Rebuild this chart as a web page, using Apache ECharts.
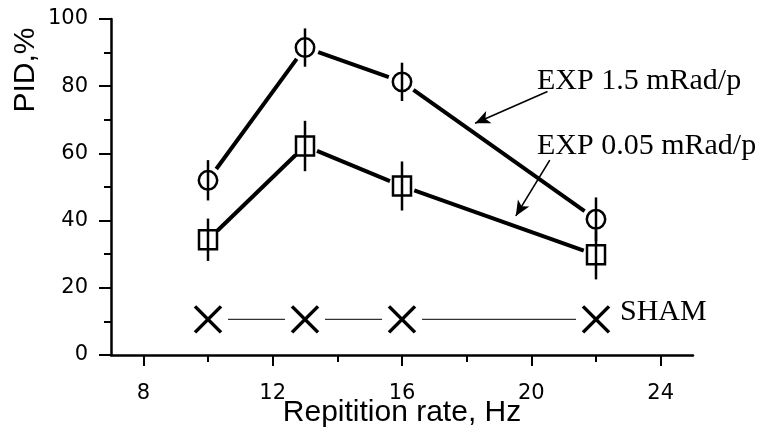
<!DOCTYPE html>
<html lang="en">
<head>
    <meta charset="UTF-8">
    <script src="https://cdn.jsdelivr.net/npm/echarts@6/dist/echarts.min.js"></script>
    <style>
        html, body { margin: 0; padding: 0; background: #fff; }
    </style>
</head>
<body>
    <div id="main" style="width: 761px; height: 432px;"></div>
    <script>
        // repetition rates, Hz
        var rates = [10, 13, 16, 22];
        // PID, % for each exposure, with error bar half-widths
        var exp15 = [52, 91.5, 81.3, 40.4];
        var exp15Err = [6, 5.7, 5.7, 6.5];
        var exp005 = [34.3, 62.2, 50.3, 29.8];
        var exp005Err = [6.3, 7.5, 7.3, 7.3];
        var sham = [10.6, 10.6, 10.6, 10.6];

        var xMajorTicks = [8, 12, 16, 20, 24];
        var xMinorTicks = [10, 14, 18, 22];

        var sansFont = '"Liberation Sans", Arial, sans-serif';
        var tickFont = '"DejaVu Sans", sans-serif';
        var serifFont = '"Liberation Serif", "Times New Roman", serif';

        var chart = echarts.init(document.getElementById('main'));

        function drawMarker(kind, p) {
            if (kind === 'circle') {
                return { type: 'circle', shape: { cx: p[0], cy: p[1], r: 9.2 },
                    style: { fill: 'none', stroke: '#000', lineWidth: 2.5 } };
            }
            if (kind === 'square') {
                return { type: 'rect', shape: { x: p[0] - 9, y: p[1] - 9.5, width: 18, height: 19 },
                    style: { fill: 'none', stroke: '#000', lineWidth: 2.5 } };
            }
            // cross
            return { type: 'group', children: [
                { type: 'line', shape: { x1: p[0] - 13, y1: p[1] - 13, x2: p[0] + 13, y2: p[1] + 13 },
                    style: { stroke: '#000', lineWidth: 3.5 } },
                { type: 'line', shape: { x1: p[0] - 13, y1: p[1] + 13, x2: p[0] + 13, y2: p[1] - 13 },
                    style: { stroke: '#000', lineWidth: 3.5 } }
            ] };
        }

        function makeSeries(name, ys, errs, kind, gap, lineWidth, lineColor) {
            return {
                type: 'custom',
                name: name,
                z: 5,
                data: rates.map(function (x, i) { return [x, ys[i], errs ? errs[i] : 0]; }),
                renderItem: function (params, api) {
                    var i = params.dataIndex;
                    var p = api.coord([api.value(0), api.value(1)]);
                    var children = [];
                    var e = api.value(2);
                    if (e > 0) {
                        var top = api.coord([api.value(0), api.value(1) + e]);
                        var bot = api.coord([api.value(0), api.value(1) - e]);
                        children.push({ type: 'line', shape: { x1: top[0], y1: top[1], x2: bot[0], y2: bot[1] },
                            style: { stroke: '#000', lineWidth: 2.5 } });
                    }
                    children.push(drawMarker(kind, p));
                    if (i < rates.length - 1) {
                        var q = api.coord([rates[i + 1], ys[i + 1]]);
                        var dx = q[0] - p[0], dy = q[1] - p[1];
                        var len = Math.sqrt(dx * dx + dy * dy);
                        children.push({ type: 'line',
                            shape: { x1: p[0] + dx / len * gap, y1: p[1] + dy / len * gap,
                                     x2: q[0] - dx / len * gap, y2: q[1] - dy / len * gap },
                            style: { stroke: lineColor, lineWidth: lineWidth } });
                    }
                    return { type: 'group', children: children };
                }
            };
        }

        chart.setOption({
            animation: false,
            grid: { left: 111, right: 68, top: 19, bottom: 77, containLabel: false, outerBoundsMode: 'none' },
            xAxis: [{
                type: 'value',
                min: 7,
                max: 25,
                name: 'Repitition rate, Hz',
                nameLocation: 'middle',
                nameGap: 43,
                nameMoveOverlap: false,
                nameTextStyle: { fontFamily: sansFont, fontSize: 30, color: '#000' },
                axisLine: { lineStyle: { color: '#000', width: 2.5 } },
                axisTick: { show: true, length: 11, customValues: xMajorTicks, lineStyle: { color: '#000', width: 2 } },
                axisLabel: { customValues: xMajorTicks, margin: 28, fontFamily: tickFont, fontSize: 21, color: '#000' },
                splitLine: { show: false }
            }, {
                type: 'value',
                min: 7,
                max: 25,
                position: 'bottom',
                axisLine: { show: false },
                axisTick: { show: true, length: 7, customValues: xMinorTicks, lineStyle: { color: '#000', width: 2 } },
                axisLabel: { show: false },
                splitLine: { show: false }
            }],
            yAxis: {
                type: 'value',
                min: 0,
                max: 100,
                interval: 20,
                axisLine: { show: true, lineStyle: { color: '#000', width: 2.5 } },
                axisTick: { show: true, length: 12, lineStyle: { color: '#000', width: 2 } },
                minorTick: { show: true, splitNumber: 2, length: 7, lineStyle: { color: '#000', width: 2 } },
                axisLabel: { margin: 23, fontFamily: tickFont, fontSize: 21, color: '#000' },
                splitLine: { show: false }
            },
            graphic: [
                { type: 'text', x: 26, y: 70, rotation: Math.PI / 2,
                  style: { text: 'PID,%', font: '30px ' + sansFont, fill: '#000', align: 'center', verticalAlign: 'middle' } },
                { type: 'text', x: 537, y: 81,
                  style: { text: 'EXP 1.5 mRad/p', font: '30px ' + serifFont, fill: '#000', align: 'left', verticalAlign: 'middle' } },
                { type: 'text', x: 537, y: 146,
                  style: { text: 'EXP 0.05 mRad/p', font: '30px ' + serifFont, fill: '#000', align: 'left', verticalAlign: 'middle' } },
                { type: 'text', x: 620, y: 312,
                  style: { text: 'SHAM', font: '30px ' + serifFont, fill: '#000', align: 'left', verticalAlign: 'middle' } }
            ],
            series: [
                makeSeries('EXP 1.5 mRad/p', exp15, exp15Err, 'circle', 14, 4, '#000'),
                makeSeries('EXP 0.05 mRad/p', exp005, exp005Err, 'square', 13, 4, '#000'),
                makeSeries('SHAM', sham, null, 'cross', 20, 1.2, '#333'),
                {
                    type: 'line',
                    data: [],
                    silent: true,
                    markLine: {
                        silent: true,
                        symbol: ['none', 'arrow'],
                        symbolSize: [10, 15],
                        label: { show: false },
                        lineStyle: { color: '#000', width: 1.6, type: 'solid' },
                        data: [
                            [{ coord: [20.5, 78.4] }, { coord: [18.26, 69] }],
                            [{ coord: [20.57, 58] }, { coord: [19.52, 41.4] }]
                        ]
                    }
                }
            ]
        });
    </script>
</body>
</html>
